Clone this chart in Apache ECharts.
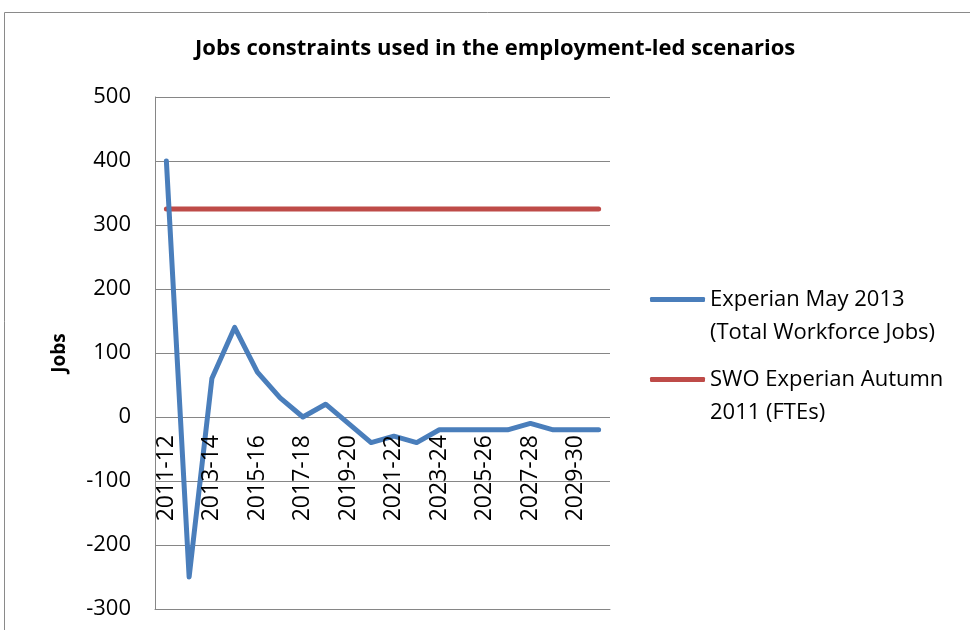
<!DOCTYPE html>
<html>
<head>
<meta charset="utf-8">
<script src="https://cdn.jsdelivr.net/npm/echarts@6/dist/echarts.min.js"></script>
<style>
  html, body { margin: 0; padding: 0; background: #fff; }
  #chart { width: 970px; height: 630px; }
</style>
</head>
<body>
<div id="chart"></div>
<script>
// Financial years on the category axis
const years = [
  '2011-12', '2012-13', '2013-14', '2014-15', '2015-16', '2016-17', '2017-18',
  '2018-19', '2019-20', '2020-21', '2021-22', '2022-23', '2023-24', '2024-25',
  '2025-26', '2026-27', '2027-28', '2028-29', '2029-30', '2030-31'
];

// Annual jobs change, Experian May 2013 (Total Workforce Jobs)
const experianMay2013 = [
  400, -250, 60, 140, 70, 30, 0, 20, -10, -40,
  -30, -40, -20, -20, -20, -20, -10, -20, -20, -20
];

// SWO Experian Autumn 2011 (FTEs): flat annual constraint
const swoAutumn2011 = [
  325, 325, 325, 325, 325, 325, 325, 325, 325, 325,
  325, 325, 325, 325, 325, 325, 325, 325, 325, 325
];

const seriesNames = [
  'Experian May 2013\n(Total Workforce Jobs)',
  'SWO Experian Autumn\n2011 (FTEs)'
];

const FONT = '"Open Sans", Lato, sans-serif';

const Y_MIN = -300;
const Y_MAX = 500;
const GRID_TOP = 97;
const GRID_BOTTOM = 21;
const CHART_H = 630;

// distance from the bottom edge of the plot up to the zero line,
// so the year labels hang just below y = 0
const plotH = CHART_H - GRID_TOP - GRID_BOTTOM;
const zeroOffset = plotH * (0 - Y_MIN) / (Y_MAX - Y_MIN);

const chart = echarts.init(document.getElementById('chart'));

const legendBase = {
  orient: 'vertical',
  left: 645,
  icon: 'roundRect',
  itemWidth: 55,
  itemHeight: 5,
  selectedMode: false,
  // leading blank line keeps the marker level with the first text line
  formatter: name => '\n' + name,
  textStyle: {
    fontFamily: FONT,
    fontSize: 22,
    lineHeight: 33,
    color: '#000'
  }
};

chart.setOption({
  animation: false,
  title: {
    text: 'Jobs constraints used in the employment-led scenarios',
    left: 190,
    top: 33,
    textStyle: {
      fontFamily: FONT,
      fontWeight: 'bold',
      fontSize: 22,
      color: '#000'
    }
  },
  graphic: [{
    type: 'rect',
    shape: { x: 4.5, y: 12.5, width: 1000, height: 700 },
    style: { fill: 'none', stroke: '#8a8a8a', lineWidth: 1 },
    silent: true,
    z: -10
  }],
  legend: [
    Object.assign({}, legendBase, { top: 297 - 52, data: [seriesNames[0]] }),
    Object.assign({}, legendBase, { top: 377 - 52, data: [seriesNames[1]] })
  ],
  grid: {
    left: 155, right: 360, top: GRID_TOP, bottom: GRID_BOTTOM,
    containLabel: false,
    outerBoundsMode: 'none'
  },
  xAxis: {
    type: 'category',
    data: years,
    boundaryGap: true,
    z: 10,
    axisLine: { onZero: false, lineStyle: { color: '#868686', width: 1 } },
    axisTick: { show: false },
    axisLabel: {
      rotate: 90,
      interval: 1,
      margin: -zeroOffset + 18,
      fontFamily: FONT,
      fontSize: 23,
      color: '#000'
    }
  },
  yAxis: {
    type: 'value',
    min: Y_MIN,
    max: Y_MAX,
    interval: 100,
    name: 'Jobs',
    nameLocation: 'middle',
    nameGap: 86,
    nameTextStyle: {
      fontFamily: FONT,
      fontWeight: 'bold',
      fontSize: 19,
      color: '#000'
    },
    axisLine: { show: true, lineStyle: { color: '#868686', width: 1 } },
    axisTick: { show: false },
    axisLabel: {
      margin: 24,
      fontFamily: FONT,
      fontSize: 22,
      color: '#000'
    },
    splitLine: { lineStyle: { color: '#868686', width: 1 } }
  },
  series: [
    {
      name: seriesNames[0],
      type: 'line',
      data: experianMay2013,
      symbol: 'none',
      lineStyle: { color: '#4a7ebb', width: 5, cap: 'round', join: 'round' },
      itemStyle: { color: '#4a7ebb' },
      z: 3
    },
    {
      name: seriesNames[1],
      type: 'line',
      data: swoAutumn2011,
      symbol: 'none',
      lineStyle: { color: '#be4b48', width: 5, cap: 'round', join: 'round' },
      itemStyle: { color: '#be4b48' },
      z: 2
    }
  ]
});
</script>
</body>
</html>
